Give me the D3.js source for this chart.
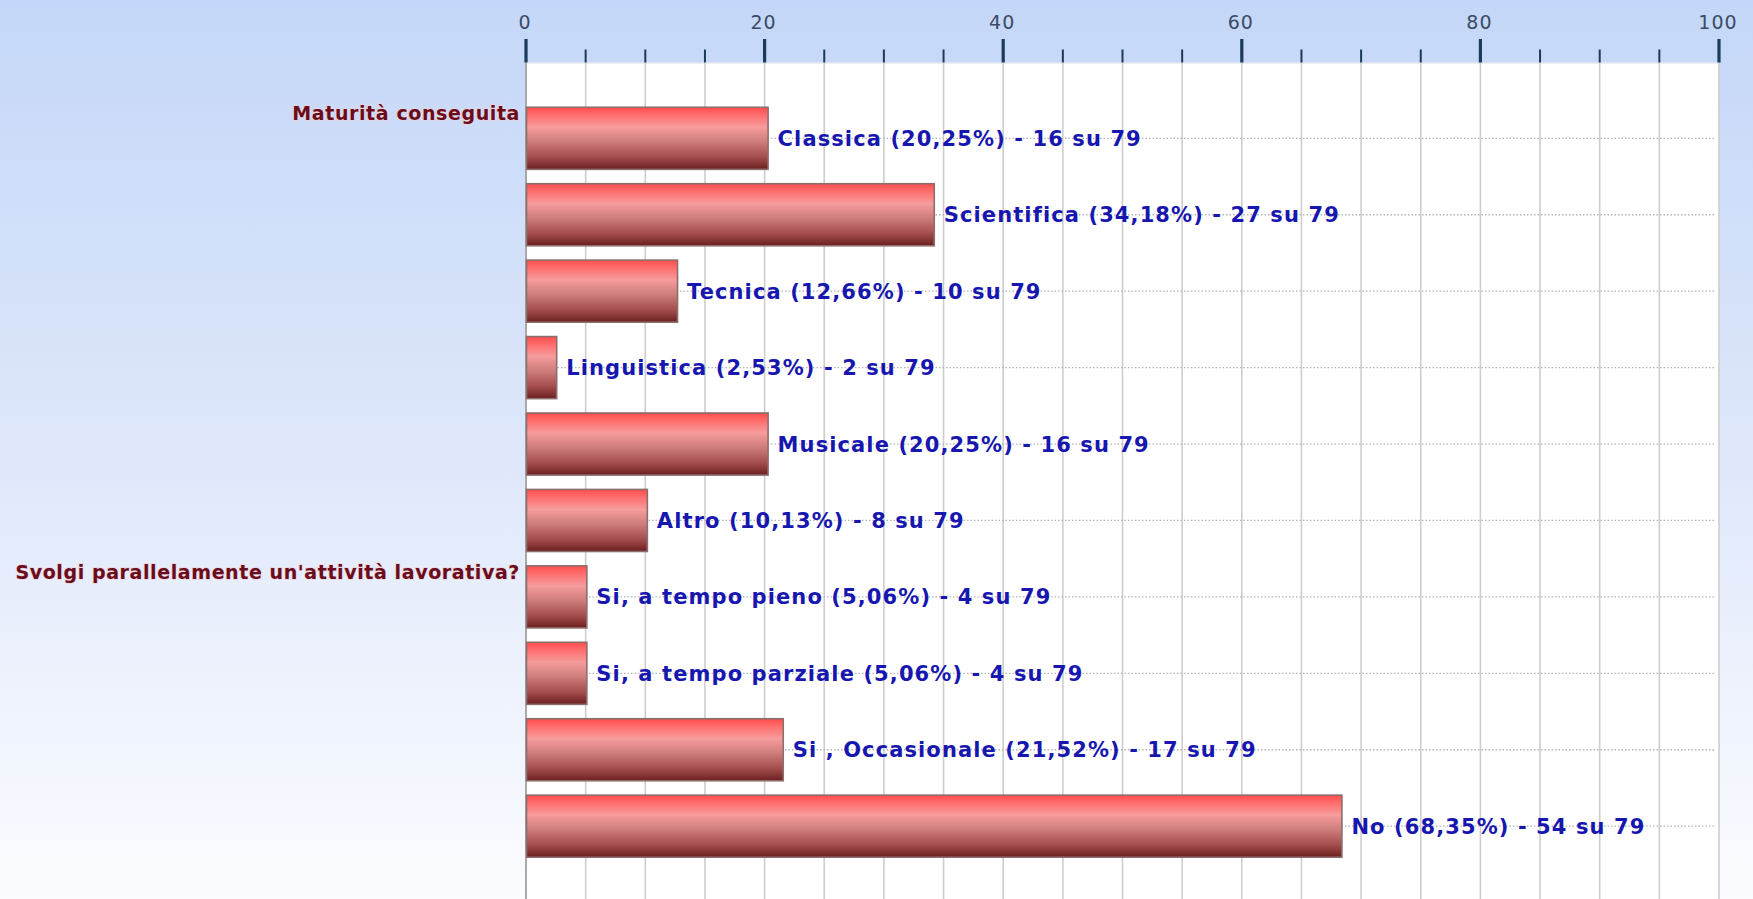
<!DOCTYPE html>
<html>
<head>
<meta charset="utf-8">
<script src="https://cdn.jsdelivr.net/npm/d3@7"></script>
<style>
  html, body { margin: 0; padding: 0; overflow: hidden; }
  svg { display: block; }
</style>
</head>
<body>
<svg id="chart" width="1753" height="899"></svg>
<script>
// ---- data ----
const categories = ["Classica", "Scientifica", "Tecnica", "Linguistica", "Musicale", "Altro",
  "Si, a tempo pieno", "Si, a tempo parziale", "Si , Occasionale", "No"];
const percentages = [20.25, 34.18, 12.66, 2.53, 20.25, 10.13, 5.06, 5.06, 21.52, 68.35];
const counts = [16, 27, 10, 2, 16, 8, 4, 4, 17, 54];
const totalRespondents = 79;
const groupLabels = ["Maturità conseguita", "Svolgi parallelamente un'attività lavorativa?"];
const groupStartIndex = [0, 6];
const xTicks = [0, 20, 40, 60, 80, 100];
const xMinorTicks = d3.range(0, 101, 5);

// ---- layout ----
const W = 1753, H = 899;
const plot = { left: 526, right: 1719, top: 62.5, bottom: 902 };

const svg = d3.select("#chart");
const defs = svg.append("defs");

const bg = defs.append("linearGradient").attr("id", "bg").attr("x1", 0).attr("y1", 0).attr("x2", 0).attr("y2", 1);
bg.append("stop").attr("offset", 0).attr("stop-color", "#c4d7f8");
bg.append("stop").attr("offset", 0.5).attr("stop-color", "#dee7fa");
bg.append("stop").attr("offset", 1).attr("stop-color", "#fbfcff");

const barGrad = defs.append("linearGradient").attr("id", "bar").attr("x1", 0).attr("y1", 0).attr("x2", 0).attr("y2", 1);
[[0, "#ff4c4c"], [0.12, "#ff6c6c"], [0.32, "#f69c9c"], [0.55, "#cf7d7d"], [0.8, "#a44e4e"], [1, "#6c1f1f"]]
  .forEach(([o, c]) => barGrad.append("stop").attr("offset", o).attr("stop-color", c));

svg.append("rect").attr("width", W).attr("height", H).attr("fill", "url(#bg)");

const x = d3.scaleLinear().domain([0, 100]).range([plot.left, plot.right]);
const y = d3.scaleBand().domain(categories).range([plot.top, plot.bottom])
  .paddingInner(0.188).paddingOuter(0.586);

// plot background
svg.append("rect")
  .attr("x", x(0)).attr("y", plot.top)
  .attr("width", x(100) - x(0)).attr("height", H - plot.top)
  .attr("fill", "#ffffff");
svg.append("line")
  .attr("x1", x(0)).attr("x2", x(100)).attr("y1", plot.top + 0.5).attr("y2", plot.top + 0.5)
  .attr("stroke", "#d8dde6").attr("stroke-width", 1);

// vertical grid lines
svg.append("g").selectAll("line").data(xMinorTicks).join("line")
  .attr("x1", d => x(d)).attr("x2", d => x(d))
  .attr("y1", plot.top).attr("y2", H)
  .attr("stroke", d => d === 0 ? "#a9a9a9" : "#cdcdcd")
  .attr("stroke-width", d => d === 0 ? 2 : 1.6);

// horizontal dotted guide lines
svg.append("g").selectAll("line").data(categories).join("line")
  .attr("x1", x(0)).attr("x2", x(100) - 3)
  .attr("y1", d => y(d) + y.bandwidth() / 2).attr("y2", d => y(d) + y.bandwidth() / 2)
  .attr("stroke", "#b4b4b4").attr("stroke-width", 1.3).attr("stroke-dasharray", "1.5,2");

// top axis ticks
const axisG = svg.append("g");
axisG.selectAll("line.minor").data(xMinorTicks.filter(d => d % 20 !== 0)).join("line")
  .attr("class", "minor")
  .attr("x1", d => x(d)).attr("x2", d => x(d))
  .attr("y1", 49.5).attr("y2", plot.top)
  .attr("stroke", "#1b3a5c").attr("stroke-width", 2);
axisG.selectAll("line.major").data(xTicks).join("line")
  .attr("class", "major")
  .attr("x1", d => x(d)).attr("x2", d => x(d))
  .attr("y1", 39).attr("y2", plot.top)
  .attr("stroke", "#1b3a5c").attr("stroke-width", 3.2);
axisG.selectAll("text").data(xTicks).join("text")
  .attr("x", d => x(d) - 1).attr("y", 29)
  .attr("text-anchor", "middle")
  .attr("font-family", "DejaVu Sans, Verdana, sans-serif")
  .attr("font-size", 19).attr("letter-spacing", 1)
  .attr("fill", "#3b4b66")
  .text(d => d);

// bars
svg.append("g").selectAll("rect").data(categories).join("rect")
  .attr("x", x(0) + 0.5)
  .attr("y", d => y(d))
  .attr("width", (d, i) => x(percentages[i]) - x(0))
  .attr("height", y.bandwidth())
  .attr("fill", "url(#bar)")
  .attr("stroke", "#8c6e6e").attr("stroke-width", 1.6);

// value labels
const fmtPct = v => v.toFixed(2).replace(".", ",");
svg.append("g").selectAll("text").data(categories).join("text")
  .attr("x", (d, i) => x(percentages[i]) + 10)
  .attr("y", d => y(d) + y.bandwidth() / 2)
  .attr("dy", "0.36em")
  .attr("font-family", "DejaVu Sans, Verdana, sans-serif")
  .attr("font-weight", "bold")
  .attr("font-size", 21).attr("letter-spacing", 1.1)
  .attr("fill", "#1717b0")
  .text((d, i) => `${d} (${fmtPct(percentages[i])}%) - ${counts[i]} su ${totalRespondents}`);

// group labels
svg.append("g").selectAll("text").data(groupLabels).join("text")
  .attr("x", x(0) - 6)
  .attr("y", (d, i) => y(categories[groupStartIndex[i]]) + 13)
  .attr("text-anchor", "end")
  .attr("font-family", "DejaVu Sans, Verdana, sans-serif")
  .attr("font-weight", "bold")
  .attr("font-size", 19).attr("letter-spacing", 0.6)
  .attr("fill", "#6a0c1c")
  .attr("stroke", "#ecd3dc").attr("stroke-width", 1.5).attr("paint-order", "stroke")
  .text(d => d);
</script>
</body>
</html>
